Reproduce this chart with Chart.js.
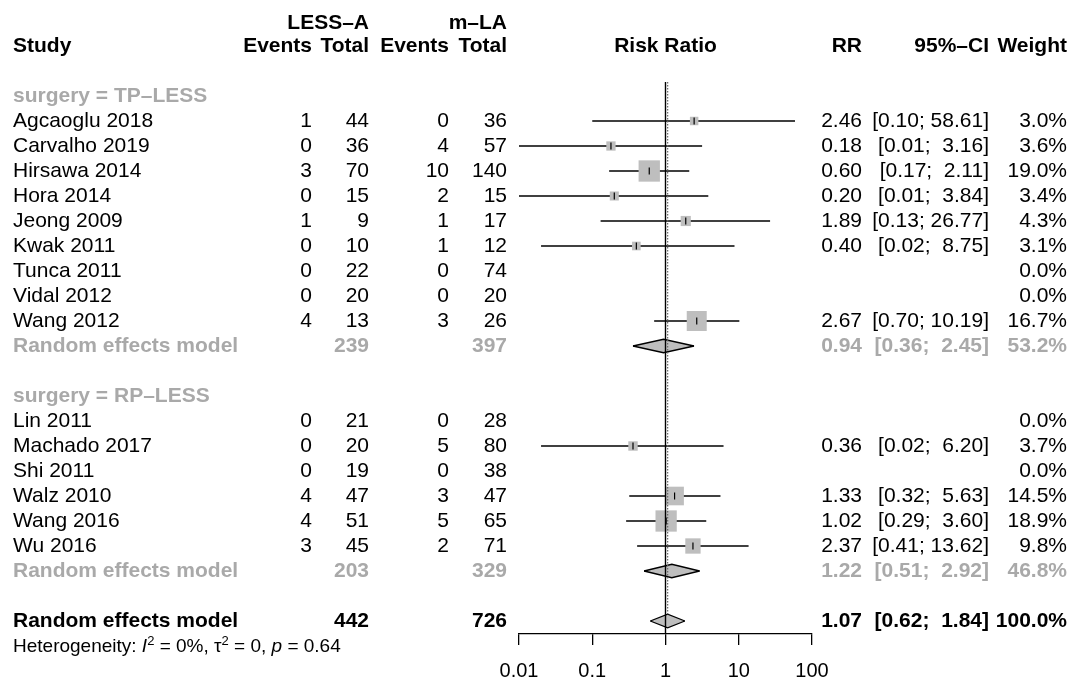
<!DOCTYPE html>
<html>
<head>
<meta charset="utf-8">
<script src="https://cdn.jsdelivr.net/npm/chart.js@4.4.1/dist/chart.umd.min.js"></script>
<style>
  html, body { margin: 0; background: #fff; }
  #wrap { width: 1075px; height: 684px; }
</style>
</head>
<body>
<div id="wrap"><canvas id="forest" width="1075" height="684"></canvas></div>
<script>
const FONT = "'Liberation Sans', Arial, Helvetica, sans-serif";
const GREY = '#a9a9a9';
const SIZE = 21;

// study level data
const studies = ['Agcaoglu 2018', 'Carvalho 2019', 'Hirsawa 2014', 'Hora 2014', 'Jeong 2009', 'Kwak 2011',
  'Tunca 2011', 'Vidal 2012', 'Wang 2012', 'Lin 2011', 'Machado 2017', 'Shi 2011', 'Walz 2010', 'Wang 2016', 'Wu 2016'];
const groupOf = [0, 0, 0, 0, 0, 0, 0, 0, 0, 1, 1, 1, 1, 1, 1];
const eventsA = [1, 0, 3, 0, 1, 0, 0, 0, 4, 0, 0, 0, 4, 4, 3];
const totalA = [44, 36, 70, 15, 9, 10, 22, 20, 13, 21, 20, 19, 47, 51, 45];
const eventsB = [0, 4, 10, 2, 1, 1, 0, 0, 3, 0, 5, 0, 3, 5, 2];
const totalB = [36, 57, 140, 15, 17, 12, 74, 20, 26, 28, 80, 38, 47, 65, 71];
const rr = [2.46, 0.18, 0.60, 0.20, 1.89, 0.40, null, null, 2.67, null, 0.36, null, 1.33, 1.02, 2.37];
const ciLow = [0.10, 0.01, 0.17, 0.01, 0.13, 0.02, null, null, 0.70, null, 0.02, null, 0.32, 0.29, 0.41];
const ciHigh = [58.61, 3.16, 2.11, 3.84, 26.77, 8.75, null, null, 10.19, null, 6.20, null, 5.63, 3.60, 13.62];
const weight = [3.0, 3.6, 19.0, 3.4, 4.3, 3.1, 0.0, 0.0, 16.7, 0.0, 3.7, 0.0, 14.5, 18.9, 9.8];

// subgroups, then the overall pooled estimate last
const groups = ['surgery = TP\u2013LESS', 'surgery = RP\u2013LESS'];
const pooledTotalA = [239, 203, 442];
const pooledTotalB = [397, 329, 726];
const pooledRR = [0.94, 1.22, 1.07];
const pooledLow = [0.36, 0.51, 0.62];
const pooledHigh = [2.45, 2.92, 1.84];
const pooledWeight = [53.2, 46.8, 100.0];

const xTicks = [0.01, 0.1, 1, 10, 100];
const xTickLabels = ['0.01', '0.1', '1', '10', '100'];

// row layout: header, studies, pooled row, blank line per subgroup
const studyRow = [], groupRow = [], pooledRow = [];
let r = 0;
groups.forEach((g, gi) => {
  groupRow.push(r++);
  studies.forEach((s, i) => { if (groupOf[i] === gi) studyRow[i] = r++; });
  pooledRow.push(r++);
  r++;
});
pooledRow.push(r);
const overall = pooledRow.length - 1;
const overallRow = pooledRow[overall];
const ROW_TOP = -0.56, ROW_BOTTOM = overallRow + 0.52;
const DIAMOND_H = 0.27;
const SQ = 3.46; // square radius per sqrt(weight)

const datasets = [];
// null-effect line and pooled-estimate line sit on top of the marks
datasets.push({ type: 'line', data: [{ x: 1, y: ROW_TOP }, { x: 1, y: ROW_BOTTOM }],
  borderColor: '#000', borderWidth: 1.4, pointRadius: 0, order: 0 });
datasets.push({ type: 'line', data: [{ x: pooledRR[overall], y: ROW_TOP }, { x: pooledRR[overall], y: overallRow - DIAMOND_H }],
  borderColor: '#666', borderWidth: 1.2, borderDash: [1.5, 1.5], pointRadius: 0, order: 0.5 });

const est = studies.map((s, i) => i).filter(i => rr[i] != null);
est.forEach(i => datasets.push({ type: 'line',
  data: [{ x: ciLow[i], y: studyRow[i] }, { x: ciHigh[i], y: studyRow[i] }],
  borderColor: '#000', borderWidth: 1.4, pointRadius: 0, order: 6 }));

datasets.push({ type: 'scatter', data: est.map(i => ({ x: rr[i], y: studyRow[i] })),
  pointStyle: 'rect', pointRadius: est.map(i => SQ * Math.sqrt(weight[i])),
  backgroundColor: '#bebebe', borderWidth: 0, order: 4 });
datasets.push({ type: 'scatter', data: est.map(i => ({ x: rr[i], y: studyRow[i] })),
  pointStyle: 'line', rotation: 90, pointRadius: 3.5, borderColor: '#000', borderWidth: 1.2, order: 2 });

// diamonds: upper half outline + filled lower half
pooledRR.forEach((v, k) => {
  const row = pooledRow[k];
  const upIdx = datasets.length;
  datasets.push({ type: 'line', data: [{ x: pooledLow[k], y: row }, { x: v, y: row - DIAMOND_H }, { x: pooledHigh[k], y: row }],
    borderColor: '#000', borderWidth: 1.3, pointRadius: 0, tension: 0, fill: false, order: 2.5 });
  datasets.push({ type: 'line', data: [{ x: pooledLow[k], y: row }, { x: v, y: row + DIAMOND_H }, { x: pooledHigh[k], y: row }],
    borderColor: '#000', borderWidth: 1.3, pointRadius: 0, tension: 0, fill: upIdx, backgroundColor: '#bebebe', order: 3 });
});

const fmt = v => v.toFixed(2);
const ciText = (lo, hi) => '[' + fmt(lo) + ';' + (hi < 10 ? '  ' : ' ') + fmt(hi) + ']';

const COL = { study: 13, evA: 312, totA: 369, evB: 449, totB: 507, rr: 862, ci: 989, w: 1067 };

const tablePlugin = {
  id: 'table',
  afterDraw(chart) {
    const ctx = chart.ctx, ys = chart.scales.y, area = chart.chartArea;
    const txt = (s, x, row, align, bold, color) => {
      ctx.font = (bold ? 'bold ' : '') + SIZE + 'px ' + FONT;
      ctx.fillStyle = color || '#000';
      ctx.textAlign = align;
      ctx.textBaseline = 'middle';
      ctx.fillText(s, x, ys.getPixelForValue(row));
    };
    ctx.save();
    // column headers
    txt('LESS\u2013A', COL.totA, -2.9, 'right', true);
    txt('m\u2013LA', COL.totB, -2.9, 'right', true);
    txt('Study', COL.study, -2, 'left', true);
    txt('Events', COL.evA, -2, 'right', true);
    txt('Total', COL.totA, -2, 'right', true);
    txt('Events', COL.evB, -2, 'right', true);
    txt('Total', COL.totB, -2, 'right', true);
    txt('Risk Ratio', (area.left + area.right) / 2, -2, 'center', true);
    txt('RR', COL.rr, -2, 'right', true);
    txt('95%\u2013CI', COL.ci, -2, 'right', true);
    txt('Weight', COL.w, -2, 'right', true);

    groups.forEach((g, gi) => txt(g, COL.study, groupRow[gi], 'left', true, GREY));
    studies.forEach((s, i) => {
      const row = studyRow[i];
      txt(s, COL.study, row, 'left');
      txt(String(eventsA[i]), COL.evA, row, 'right');
      txt(String(totalA[i]), COL.totA, row, 'right');
      txt(String(eventsB[i]), COL.evB, row, 'right');
      txt(String(totalB[i]), COL.totB, row, 'right');
      if (rr[i] != null) {
        txt(fmt(rr[i]), COL.rr, row, 'right');
        txt(ciText(ciLow[i], ciHigh[i]), COL.ci, row, 'right');
      }
      txt(weight[i].toFixed(1) + '%', COL.w, row, 'right');
    });
    pooledRR.forEach((v, k) => {
      const row = pooledRow[k], c = k === overall ? '#000' : GREY;
      txt('Random effects model', COL.study, row, 'left', true, c);
      txt(String(pooledTotalA[k]), COL.totA, row, 'right', true, c);
      txt(String(pooledTotalB[k]), COL.totB, row, 'right', true, c);
      txt(fmt(v), COL.rr, row, 'right', true, c);
      txt(ciText(pooledLow[k], pooledHigh[k]), COL.ci, row, 'right', true, c);
      txt(pooledWeight[k].toFixed(1) + '%', COL.w, row, 'right', true, c);
    });

    // heterogeneity line with italics and superscripts
    const base = ys.getPixelForValue(overallRow + 0.96) + 6.5;
    const parts = [['Heterogeneity: ', ''], ['I', 'italic '], ['2', 'sup'], [' = 0%, ', ''], ['\u03c4', ''], ['2', 'sup'],
      [' = 0, ', ''], ['p', 'italic '], [' = 0.64', '']];
    let x = COL.study;
    ctx.textAlign = 'left';
    ctx.textBaseline = 'alphabetic';
    ctx.fillStyle = '#000';
    parts.forEach(([s, st]) => {
      const sup = st === 'sup';
      ctx.font = (sup ? '13px ' : (st + '19px ')) + FONT;
      ctx.fillText(s, x, sup ? base - 7 : base);
      x += ctx.measureText(s).width;
    });
    ctx.restore();
  }
};

new Chart(document.getElementById('forest'), {
  type: 'line',
  data: { datasets },
  plugins: [tablePlugin],
  options: {
    responsive: false,
    devicePixelRatio: 1,
    animation: false,
    events: [],
    layout: { padding: { left: 519, right: 263, top: 82, bottom: 0 } },
    plugins: { legend: { display: false }, tooltip: { enabled: false } },
    scales: {
      x: {
        type: 'logarithmic', min: xTicks[0], max: xTicks[xTicks.length - 1],
        afterBuildTicks: s => { s.ticks = xTicks.map(v => ({ value: v })); },
        afterFit: s => { s.height = 50; },
        ticks: { callback: (v, i) => xTickLabels[i], color: '#000', font: { family: FONT, size: 20 },
          padding: 14, maxRotation: 0, autoSkip: false },
        grid: { drawOnChartArea: false, drawTicks: true, tickLength: 11, color: '#000', lineWidth: 1.3 },
        border: { display: true, color: '#000', width: 1.3 }
      },
      y: { type: 'linear', display: false, reverse: true, min: ROW_TOP, max: ROW_BOTTOM }
    }
  }
});
</script>
</body>
</html>
